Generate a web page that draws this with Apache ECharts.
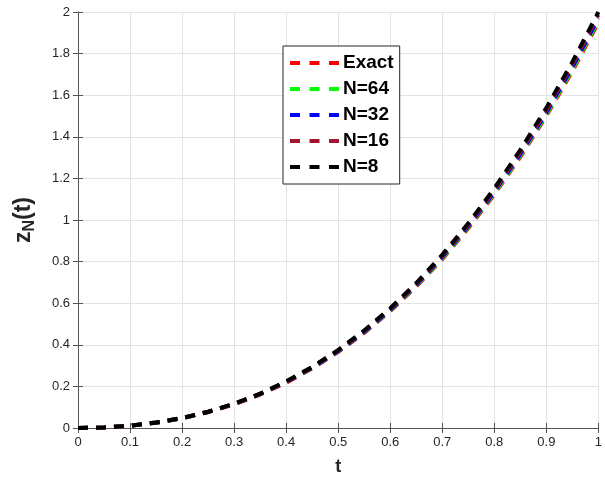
<!DOCTYPE html>
<html>
<head>
<meta charset="utf-8">
<script src="https://cdn.jsdelivr.net/npm/echarts@6/dist/echarts.min.js"></script>
<style>
  html, body { margin: 0; padding: 0; background: #fff; }
  #chart { width: 605px; height: 481px; }
</style>
</head>
<body>
<div id="chart"></div>
<script>
// time grid
var tValues = [0, 0.05, 0.1, 0.15, 0.2, 0.25, 0.3, 0.35, 0.4, 0.45, 0.5,
  0.55, 0.6, 0.65, 0.7, 0.75, 0.8, 0.85, 0.9, 0.95, 1];

// values
var exactVals = [0, 0.0025, 0.011, 0.025, 0.047, 0.076, 0.114, 0.161, 0.218, 0.286, 0.366,
  0.457, 0.562, 0.680, 0.812, 0.960, 1.123, 1.303, 1.501, 1.716, 1.950];
var n64Vals = [0, 0.0025, 0.011, 0.025, 0.047, 0.077, 0.115, 0.162, 0.220, 0.288, 0.368,
  0.460, 0.564, 0.683, 0.816, 0.965, 1.129, 1.310, 1.508, 1.725, 1.960];
var n32Vals = [0, 0.0026, 0.011, 0.026, 0.047, 0.077, 0.115, 0.163, 0.221, 0.289, 0.369,
  0.462, 0.567, 0.687, 0.821, 0.970, 1.135, 1.317, 1.516, 1.734, 1.970];
var n16Vals = [0, 0.0026, 0.011, 0.026, 0.048, 0.078, 0.116, 0.164, 0.222, 0.292, 0.372,
  0.466, 0.572, 0.692, 0.827, 0.977, 1.144, 1.327, 1.528, 1.748, 1.986];
var n8Vals = [0, 0.0026, 0.011, 0.026, 0.048, 0.078, 0.117, 0.165, 0.224, 0.294, 0.375,
  0.469, 0.576, 0.697, 0.833, 0.984, 1.152, 1.337, 1.539, 1.760, 2.0];

var seriesNames = ['Exact', 'N=64', 'N=32', 'N=16', 'N=8'];
var seriesColors = ['#ff0000', '#00ff00', '#0000ff', '#a2142f', '#000000'];
var seriesVals = [exactVals, n64Vals, n32Vals, n16Vals, n8Vals];

function pairs(vals) {
  return tValues.map(function (t, i) { return [t, vals[i]]; });
}

var axisCol = '#555555';
var labelCol = '#262626';
var fontFam = '"Liberation Sans", Arial, sans-serif';

var series = seriesNames.map(function (name, i) {
  return {
    name: name,
    type: 'line',
    data: pairs(seriesVals[i]),
    symbol: 'none',
    lineStyle: { color: seriesColors[i], width: 4, type: [10, 8] },
    itemStyle: { color: seriesColors[i] }
  };
});

var chart = echarts.init(document.getElementById('chart'));
chart.setOption({
  animation: false,
  textStyle: { fontFamily: fontFam },
  grid: { left: 78, right: 1, top: 12, bottom: 53 },
  legend: {
    orient: 'vertical',
    left: 283,
    top: 46,
    data: seriesNames,
    itemWidth: 50,
    itemHeight: 14,
    itemGap: 6,
    padding: [7, 6, 7, 5],
    borderColor: '#262626',
    borderWidth: 1,
    backgroundColor: '#fff',
    itemStyle: { color: 'rgba(0,0,0,0)', borderWidth: 0 },
    lineStyle: { width: 4, type: [10, 9.5] },
    textStyle: { fontSize: 19, lineHeight: 20, fontWeight: 'bold', color: '#000', fontFamily: fontFam, padding: [0, 0, 0, -2] }
  },
  xAxis: [{
    type: 'value', min: 0, max: 1, interval: 0.1,
    name: 't', nameLocation: 'middle', nameGap: 30,
    nameTextStyle: { fontSize: 18, fontWeight: 'bold', color: labelCol },
    axisLine: { lineStyle: { color: axisCol } },
    axisTick: { inside: true, length: 5, lineStyle: { color: axisCol } },
    axisLabel: { fontSize: 13, color: labelCol, margin: 8 },
    splitLine: { show: true, lineStyle: { color: '#e3e3e3' } }
  }, {
    type: 'value', min: 0, max: 1, interval: 0.1, position: 'top',
    axisLine: { show: true, lineStyle: { color: axisCol } },
    axisTick: { show: true, inside: true, length: 5, lineStyle: { color: axisCol } },
    axisLabel: { show: false },
    splitLine: { show: false }
  }],
  yAxis: [{
    type: 'value', min: 0, max: 2, interval: 0.2,
    name: 'z{sub|N}(t)', nameLocation: 'middle', nameGap: 40, nameRotate: 90,
    nameTextStyle: {
      fontSize: 23, fontWeight: 'bold', color: labelCol,
      rich: {
        sub: { fontSize: 16, fontWeight: 'bold', color: labelCol, padding: [12, 0, 0, 0], verticalAlign: 'bottom' }
      }
    },
    axisLine: { show: true, lineStyle: { color: axisCol } },
    axisTick: { show: true, inside: true, length: 5, lineStyle: { color: axisCol } },
    axisLabel: {
      fontSize: 13, color: labelCol, margin: 8,
      formatter: function (v) { return String(Math.round(v * 10) / 10); }
    },
    splitLine: { show: true, lineStyle: { color: '#e3e3e3' } }
  }, {
    type: 'value', min: 0, max: 2, interval: 0.2, position: 'right',
    axisLine: { show: true, lineStyle: { color: axisCol } },
    axisTick: { show: true, inside: true, length: 5, lineStyle: { color: axisCol } },
    axisLabel: { show: false },
    splitLine: { show: false }
  }],
  series: series
});
</script>
</body>
</html>
